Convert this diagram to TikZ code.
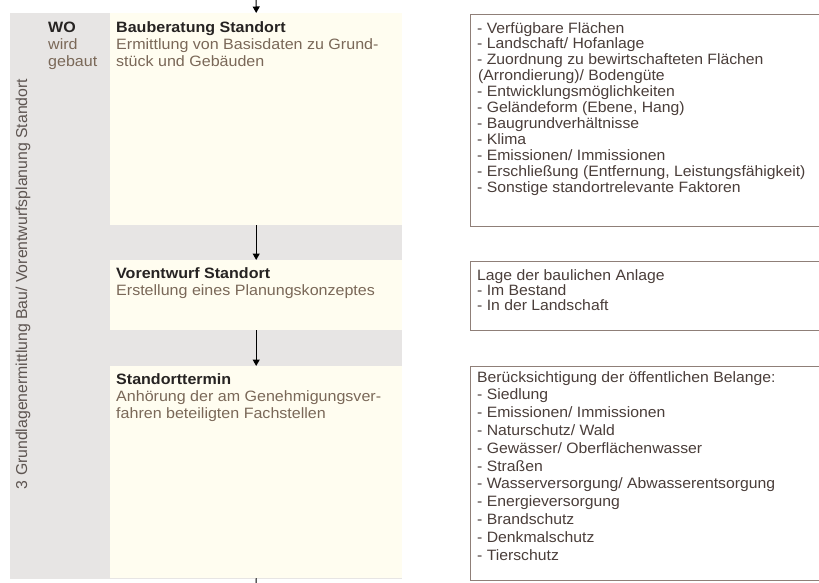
\documentclass[tikz,border=0pt]{standalone}
\usepackage{fontspec}
\usetikzlibrary{arrows.meta}
\setmainfont{Liberation Sans}
\newfontfamily\leftfont[FakeStretch=1.07]{Liberation Sans}
\newfontfamily\listfont[FakeStretch=1.05]{Liberation Sans}
\definecolor{panelgrey}{HTML}{E7E5E4}
\definecolor{cream}{HTML}{FFFDF0}
\definecolor{titleink}{HTML}{262322}
\definecolor{subink}{HTML}{7A6858}
\definecolor{listink}{HTML}{4A3E3A}
\definecolor{frame}{HTML}{8F7F78}
\definecolor{sideink}{HTML}{5E5551}

\begin{document}
\begin{tikzpicture}[x=1pt,y=-1pt,
  cell/.style={fill=cream, draw=none, anchor=north west, inner sep=0, minimum width=292},
  listbox/.style={fill=white, draw=frame, line width=1.3pt, anchor=north west, inner sep=0, minimum width=360},
  stage/.style={anchor=north west, inner sep=0, align=left, font=\leftfont\fontsize{15}{17}\selectfont, text=subink},
  items/.style={anchor=north west, inner sep=0, align=left, font=\listfont\fontsize{15}{#1}\selectfont, text=listink},
  items/.default=16,
  flow/.style={-{Triangle[length=6.5pt,width=7pt]}, line width=1.1pt, draw=black}]

\useasboundingbox (0,0) rectangle (819,583);
\clip (0,0) rectangle (819,583);

% phase column and process lane
\fill[panelgrey] (10,13) rectangle (402,579);
\node[rotate=90, inner sep=0, text=sideink, font=\fontsize{15.8}{17}\selectfont] (phase) at (23,284)
  {3 Grundlagenermittlung Bau/ Vorentwurfsplanung Standort};

% process steps
\node[cell, minimum height=212] (b1) at (110,13) {};
\node[cell, minimum height=70]  (b2) at (110,260) {};
\node[cell, minimum height=212] (b3) at (110,366) {};

\node[stage] (wo) at (48,21.5)
  {{\color{titleink}\bfseries WO}\\wird\\gebaut};
\node[stage] (t1) at (116,21.5)
  {{\color{titleink}\bfseries Bauberatung Standort}\\Ermittlung von Basisdaten zu Grund-\\stück und Gebäuden};
\node[stage] (t2) at (116,267.5)
  {{\color{titleink}\bfseries Vorentwurf Standort}\\Erstellung eines Planungskonzeptes};
\node[stage] (t3) at (116,373.5)
  {{\color{titleink}\bfseries Standorttermin}\\Anhörung der am Genehmigungsver-\\fahren beteiligten Fachstellen};

% flow
\coordinate (entry) at (256,-20);
\coordinate (exit) at (256,600);
\draw[flow] (entry) -- (b1.north);
\draw[flow] (b1.south) -- (b2.north);
\draw[flow] (b2.south) -- (b3.north);
\draw[line width=1.1pt] (b3.south) -- (exit);

% criteria lists
\node[listbox, minimum height=212] (l1) at (470,14) {};
\node[listbox, minimum height=69]  (l2) at (470,261) {};
\node[listbox, minimum height=214] (l3) at (470,366) {};

\node[items=15.9] (i1) at (477,22)
  {- Verfügbare Flächen\\
   - Landschaft/ Hofanlage\\
   - Zuordnung zu bewirtschafteten Flächen\\
   \hspace{1pt}(Arrondierung)/ Bodengüte\\
   - Entwicklungsmöglichkeiten\\
   - Geländeform (Ebene, Hang)\\
   - Baugrundverhältnisse\\
   - Klima\\
   - Emissionen/ Immissionen\\
   - Erschließung (Entfernung, Leistungsfähigkeit)\\
   - Sonstige standortrelevante Faktoren};
\node[items=15.2] (i2) at (477,269.5)
  {Lage der baulichen Anlage\\
   - Im Bestand\\
   - In der Landschaft};
\node[items=17.8] (i3) at (477,371)
  {Berücksichtigung der öffentlichen Belange:\\
   - Siedlung\\
   - Emissionen/ Immissionen\\
   - Naturschutz/ Wald\\
   - Gewässer/ Oberflächenwasser\\
   - Straßen\\
   - Wasserversorgung/ Abwasserentsorgung\\
   - Energieversorgung\\
   - Brandschutz\\
   - Denkmalschutz\\
   - Tierschutz};
\end{tikzpicture}
\end{document}
